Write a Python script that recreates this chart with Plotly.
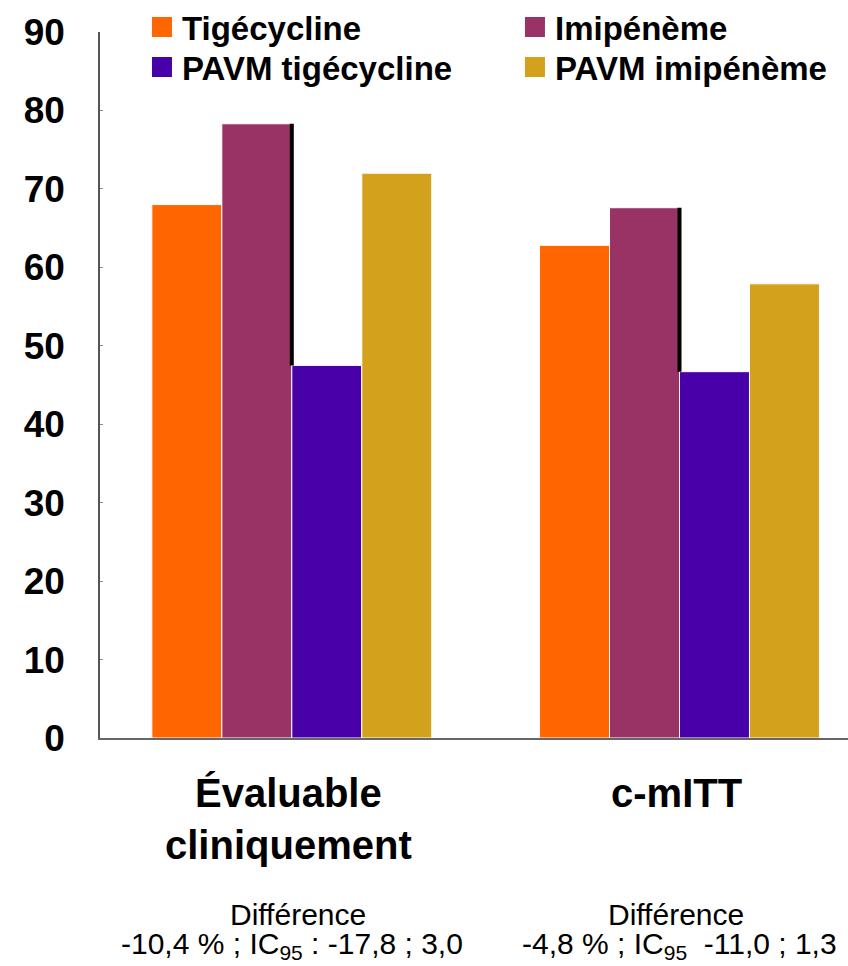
import plotly.graph_objects as go

# ---- data ----
categories = ["Évaluable cliniquement", "c-mITT"]
category_labels = ["Évaluable<br>cliniquement", "c-mITT"]
series_names = ["Tigécycline", "Imipénème", "PAVM tigécycline", "PAVM imipénème"]
tigecycline = [68.0, 62.8]
imipeneme = [78.3, 67.6]
pavm_tigecycline = [47.5, 46.7]
pavm_imipeneme = [72.0, 57.9]
diff_title = ["Différence", "Différence"]
diff_values = ["-10,4 % ; IC<sub>95</sub> : -17,8 ; 3,0", "-4,8 % ; IC<sub>95</sub>  -11,0 ; 1,3"]
y_ticks = [0, 10, 20, 30, 40, 50, 60, 70, 80, 90]

colors = ["#FF6600", "#993366", "#4800A8", "#D4A11C"]
series_values = [tigecycline, imipeneme, pavm_tigecycline, pavm_imipeneme]
legend_ids = ["legend", "legend", "legend2", "legend2"]
diff_xshift = [6, -4]
FONT = "Arial, Liberation Sans, sans-serif"

fig = go.Figure()

for name, vals, col in zip(series_names, series_values, colors):
    fig.add_trace(go.Bar(
        x=categories, y=vals, name=name, showlegend=False,
        marker=dict(color=col, line=dict(color="white", width=1)),
    ))

# connector lines between Imipénème and PAVM tigécycline
for i, cat in enumerate(categories):
    fig.add_trace(go.Scatter(
        x=[cat, cat], y=[imipeneme[i], pavm_tigecycline[i]],
        mode="lines", line=dict(color="black", width=4),
        showlegend=False, hoverinfo="skip",
    ))

# legend entries (square markers)
for name, col, lg in zip(series_names, colors, legend_ids):
    fig.add_trace(go.Scatter(
        x=[None], y=[None], mode="markers", name=name, legend=lg,
        marker=dict(symbol="square", size=16, color=col, line=dict(color=col, width=4)),
    ))

legend_common = dict(
    orientation="h", xanchor="left", yanchor="middle", yref="container",
    entrywidth=328, entrywidthmode="pixels",
    font=dict(family=FONT, size=33, color="black", weight="bold"),
    bgcolor="rgba(0,0,0,0)", borderwidth=0,
)

annotations = []
for cat, lab in zip(categories, category_labels):
    annotations.append(dict(
        x=cat, xref="x", y=0, yref="paper", yanchor="top", xanchor="center",
        yshift=-31, xshift=-3, text=lab, showarrow=False, align="center",
        font=dict(family=FONT, size=40, color="black", weight="bold"),
    ))
for cat, t1, t2, dx in zip(categories, diff_title, diff_values, diff_xshift):
    annotations.append(dict(
        x=cat, xref="x", y=0, yref="paper", yanchor="top", xanchor="center",
        yshift=-158, xshift=dx, text=t1, showarrow=False,
        font=dict(family=FONT, size=30, color="black"),
    ))
    annotations.append(dict(
        x=cat, xref="x", y=0, yref="paper", yanchor="top", xanchor="center",
        yshift=-187, text=t2, showarrow=False,
        font=dict(family=FONT, size=30, color="black"),
    ))

fig.update_layout(
    width=848, height=966,
    margin=dict(l=100, r=0, t=32, b=228, pad=0, autoexpand=False),
    paper_bgcolor="white", plot_bgcolor="white",
    barmode="group", bargap=0.278, bargroupgap=0,
    font=dict(family=FONT, color="black"),
    legend=dict(x=0.0561, y=0.972, **legend_common),
    legend2=dict(x=0.0561, y=0.9307, **legend_common),
    annotations=annotations,
    xaxis=dict(
        type="category", range=[-0.4947, 1.4346], automargin=False,
        showticklabels=False, showgrid=False, zeroline=False,
        showline=True, linecolor="#666666", linewidth=2, ticks="",
    ),
    yaxis=dict(
        range=[0, 90], tickvals=y_ticks, showgrid=False, zeroline=False,
        automargin=False,
        showline=True, linecolor="#555555", linewidth=1.5,
        ticks="inside", ticklen=3, tickcolor="#888888",
        ticklabelstandoff=26,
        tickfont=dict(family=FONT, size=37, color="black", weight="bold"),
    ),
)

fig.write_html(
    "out.html",
    config={"displayModeBar": False},
    post_script="document.body.style.margin='0px';document.body.style.padding='0px';",
)
